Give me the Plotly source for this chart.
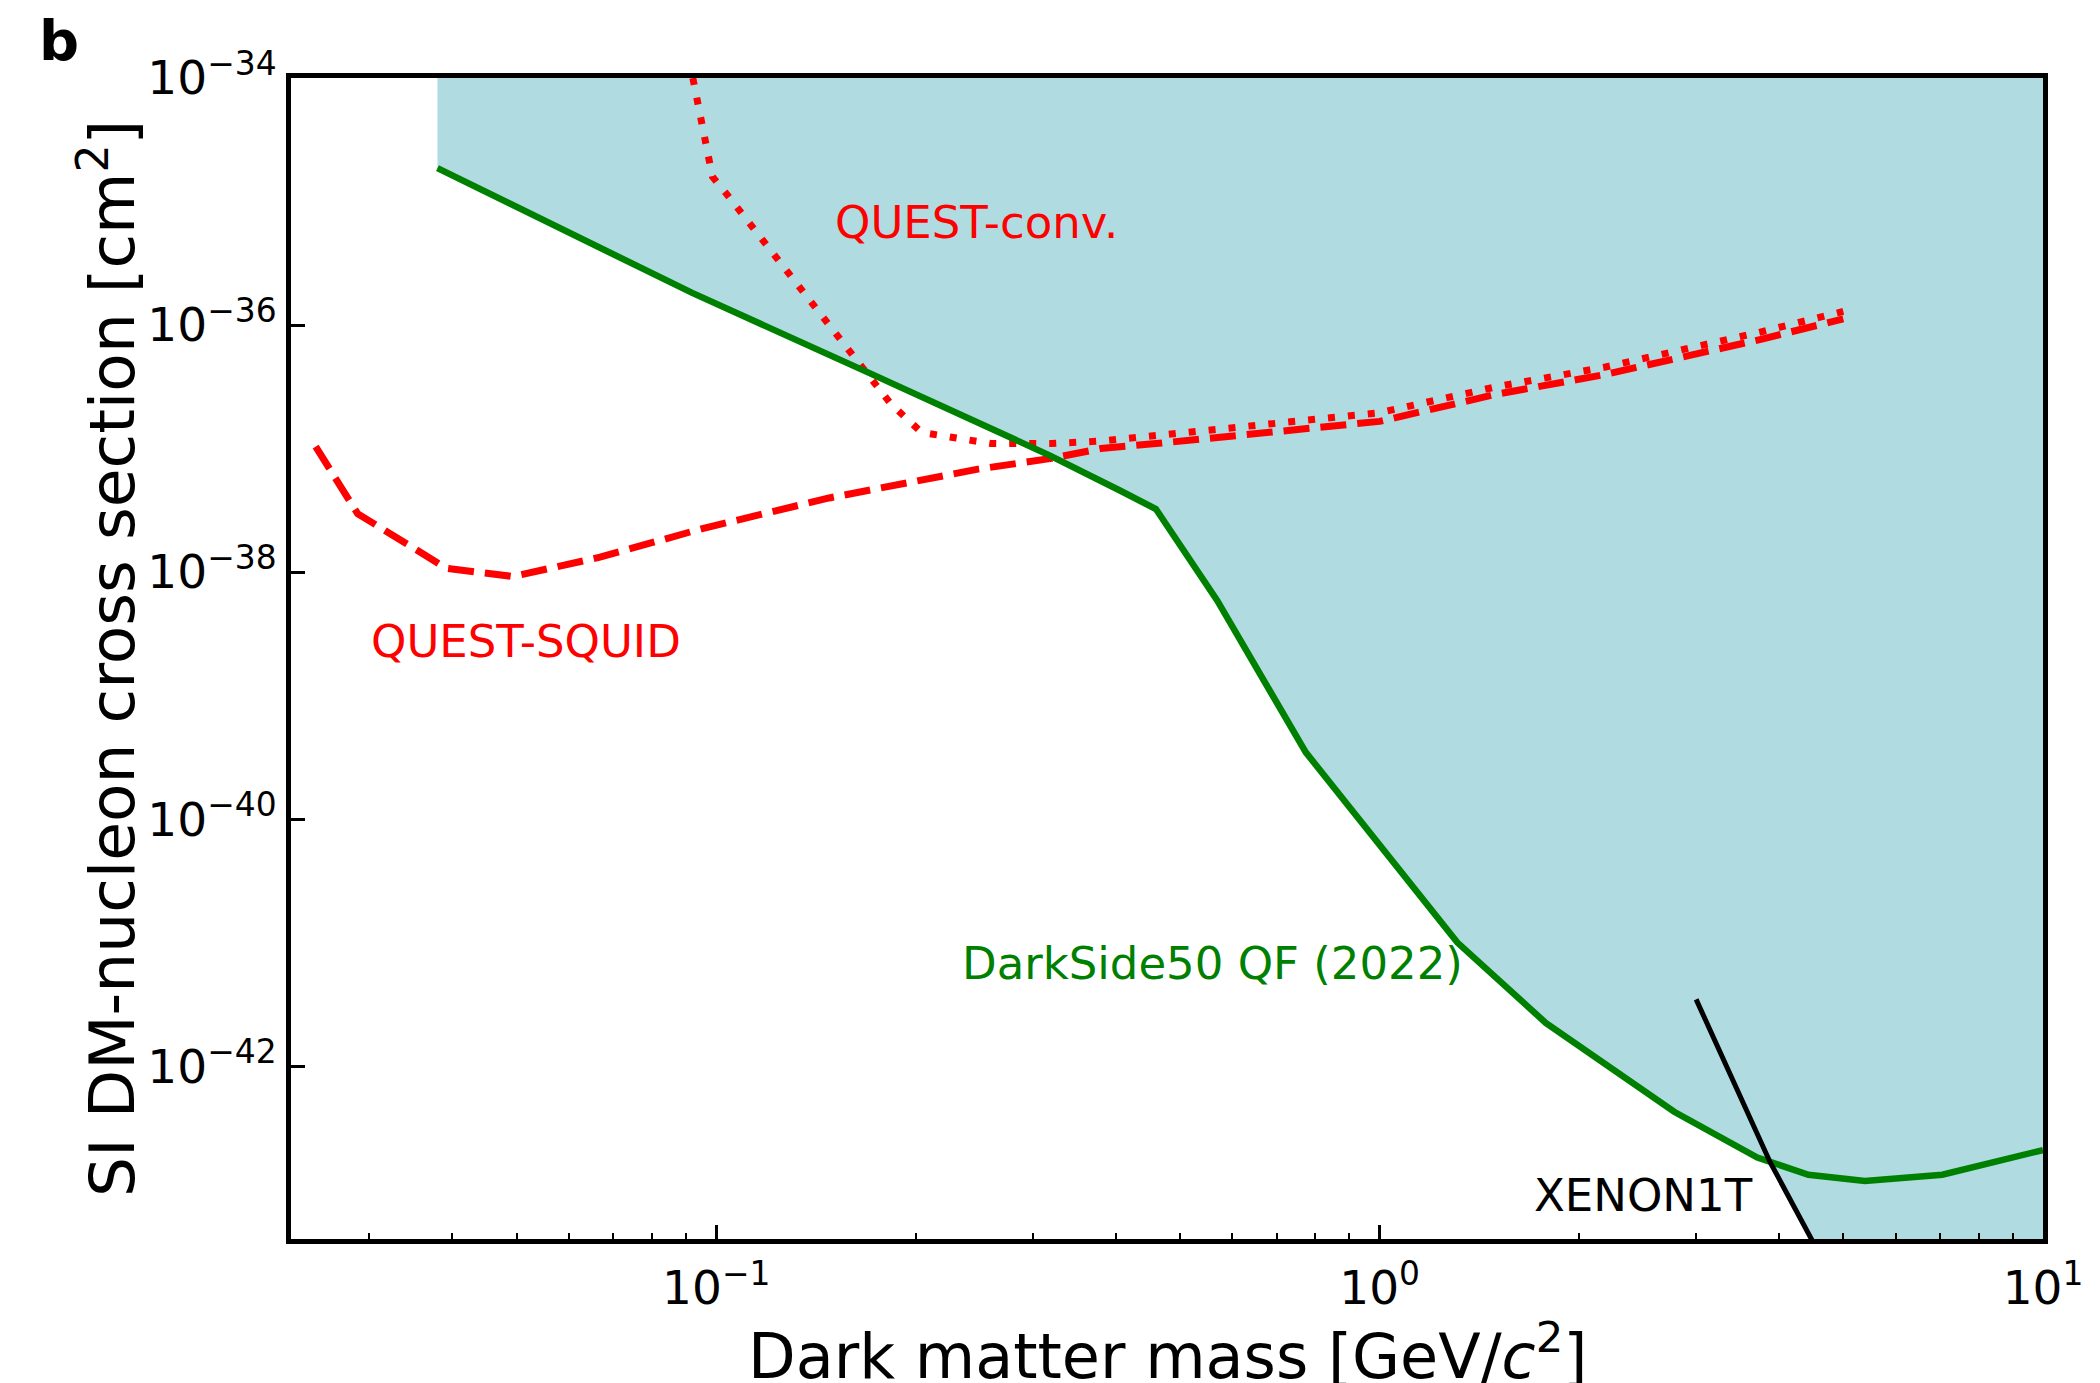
import plotly.graph_objects as go

# ---------------- data ----------------
# DarkSide50 QF (2022) limit: mass [GeV/c^2], log10(sigma [cm^2])
darkside_mass = [0.038, 0.069, 0.092, 0.168, 0.318, 0.406, 0.46, 0.569, 0.774,
                 1.31, 1.78, 2.78, 3.71, 4.43, 5.39, 7.05, 10.0]
darkside_exp = [-34.73, -35.42, -35.74, -36.375, -37.055, -37.34, -37.49, -38.23, -39.46,
                -41.0, -41.65, -42.37, -42.74, -42.88, -42.93, -42.88, -42.68]

# QUEST-SQUID projection (dashed)
squid_mass = [0.0249, 0.0288, 0.0392, 0.0494, 0.0668, 0.095, 0.148, 0.248, 0.32,
              0.38, 0.46, 0.667, 1.0, 1.5, 2.19, 3.73, 5.0]
squid_exp = [-36.985, -37.527, -37.97, -38.036, -37.88, -37.65, -37.40, -37.167, -37.08,
             -37.00, -36.96, -36.87, -36.78, -36.56, -36.40, -36.12, -35.95]

# QUEST-conv. projection (dotted)
conv_mass = [0.0922, 0.0928, 0.0987, 0.1037, 0.1253, 0.1515, 0.1834, 0.204, 0.219,
             0.260, 0.320, 0.38, 0.47, 0.667, 1.0, 1.5, 2.19, 3.73, 5.0]
conv_exp = [-34.0, -34.08, -34.80, -34.94, -35.51, -36.07, -36.64, -36.87, -36.90,
            -36.96, -36.96, -36.94, -36.89, -36.80, -36.71, -36.50, -36.34, -36.06, -35.89]

# XENON1T limit
xenon_mass = [3.0, 3.88, 4.58]
xenon_exp = [-41.46, -42.78, -43.5]

# tick labels
x_tick_vals = [0.1, 1, 10]
x_tick_text = ["10<sup>\u22121</sup>", "10<sup>0</sup>", "10<sup>1</sup>"]
y_tick_exps = [-34, -36, -38, -40, -42]
y_tick_text = ["10<sup>\u221234</sup>", "10<sup>\u221236</sup>", "10<sup>\u221238</sup>",
               "10<sup>\u221240</sup>", "10<sup>\u221242</sup>"]

# axis limits (log10)
X_RANGE = [-1.641, 1.0]
Y_RANGE = [-43.4, -34.0]

def pw(v):
    return [10 ** e for e in v]

darkside_sigma = pw(darkside_exp)
squid_sigma = pw(squid_exp)
conv_sigma = pw(conv_exp)
xenon_sigma = pw(xenon_exp)

# excluded region: above DarkSide50 curve, and right of XENON1T below it
kink = xenon_mass[1]
k = sum(1 for m in darkside_mass if m < kink)
y_top = 10 ** Y_RANGE[1]
y_bot = 10 ** (Y_RANGE[0] - 1)
x_right = 10 ** X_RANGE[1]
fill_x = darkside_mass[:k] + xenon_mass[1:] + [xenon_mass[-1], x_right, x_right, darkside_mass[0]]
fill_y = darkside_sigma[:k] + xenon_sigma[1:] + [y_bot, y_bot, y_top, y_top]

fig = go.Figure()
fig.add_trace(go.Scatter(x=fill_x, y=fill_y, mode="lines", fill="toself",
                         fillcolor="#b0dce1", line=dict(width=0, color="rgba(0,0,0,0)"),
                         hoverinfo="skip", showlegend=False))
fig.add_trace(go.Scatter(x=squid_mass, y=squid_sigma, mode="lines",
                         line=dict(color="#ff0000", width=7, dash="26px,11px"),
                         showlegend=False))
fig.add_trace(go.Scatter(x=conv_mass, y=conv_sigma, mode="lines",
                         line=dict(color="#ff0000", width=7, dash="7px,13px"),
                         showlegend=False))
fig.add_trace(go.Scatter(x=darkside_mass, y=darkside_sigma, mode="lines",
                         line=dict(color="#008000", width=6.5),
                         showlegend=False))
fig.add_trace(go.Scatter(x=xenon_mass, y=xenon_sigma, mode="lines",
                         line=dict(color="black", width=5),
                         showlegend=False))

FONT = "DejaVu Sans"
labels = [
    ("QUEST-conv.", -0.608, -35.168, "#ff0000"),
    ("QUEST-SQUID", -1.287, -38.56, "#ff0000"),
    ("DarkSide50 QF (2022)", -0.2525, -41.172, "#008000"),
    ("XENON1T", 0.398, -43.047, "black"),
]
for txt, lx, ly, col in labels:
    fig.add_annotation(x=lx, y=ly, xref="x", yref="y", text=txt, showarrow=False,
                       xanchor="center", yanchor="middle",
                       font=dict(family=FONT, size=45, color=col))

fig.add_annotation(x=-0.1447, y=1.0325, xref="paper", yref="paper", text="<b>b</b>",
                   showarrow=False, xanchor="left", yanchor="middle",
                   font=dict(family=FONT, size=56, color="black"))
fig.add_annotation(x=-0.1048, y=0.5, xref="paper", yref="paper",
                   text="SI DM-nucleon cross section [cm<sup>2</sup>]", textangle=-90,
                   showarrow=False, xanchor="center", yanchor="middle",
                   font=dict(family=FONT, size=63, color="black"))
fig.add_annotation(x=0.5, y=-0.0975, xref="paper", yref="paper",
                   text="Dark matter mass [GeV/<i>c</i><sup>2</sup>]",
                   showarrow=False, xanchor="center", yanchor="middle",
                   font=dict(family=FONT, size=62, color="black"))

minor_x = [m * d for d in (0.01, 0.1, 1) for m in range(2, 10) if m * d > 0.0228]

fig.update_xaxes(type="log", range=X_RANGE, tickmode="array", tickvals=x_tick_vals,
                 ticktext=x_tick_text, ticks="inside", ticklen=14, tickwidth=3,
                 tickcolor="black", showline=True, linewidth=5, linecolor="black",
                 mirror=True, showgrid=False, zeroline=False, ticklabelstandoff=4,
                 tickfont=dict(family=FONT, size=47, color="black"),
                 minor=dict(ticks="inside", ticklen=6, tickwidth=2, tickcolor="black",
                            tickmode="array", tickvals=minor_x, showgrid=False))
fig.update_yaxes(type="log", range=Y_RANGE, tickmode="array",
                 tickvals=[10 ** e for e in y_tick_exps], ticktext=y_tick_text,
                 ticks="inside", ticklen=14, tickwidth=3, tickcolor="black",
                 showline=True, linewidth=5, linecolor="black", mirror=True,
                 showgrid=False, zeroline=False,
                 tickfont=dict(family=FONT, size=47, color="black"))

fig.update_layout(width=2100, height=1383,
                  margin=dict(l=291, r=57, t=78, b=144, autoexpand=False),
                  plot_bgcolor="white", paper_bgcolor="white",
                  font=dict(family=FONT, size=45, color="black"),
                  showlegend=False)

fig.write_html("out.html", config={"displayModeBar": False},
               post_script="document.body.style.margin='0px';")
